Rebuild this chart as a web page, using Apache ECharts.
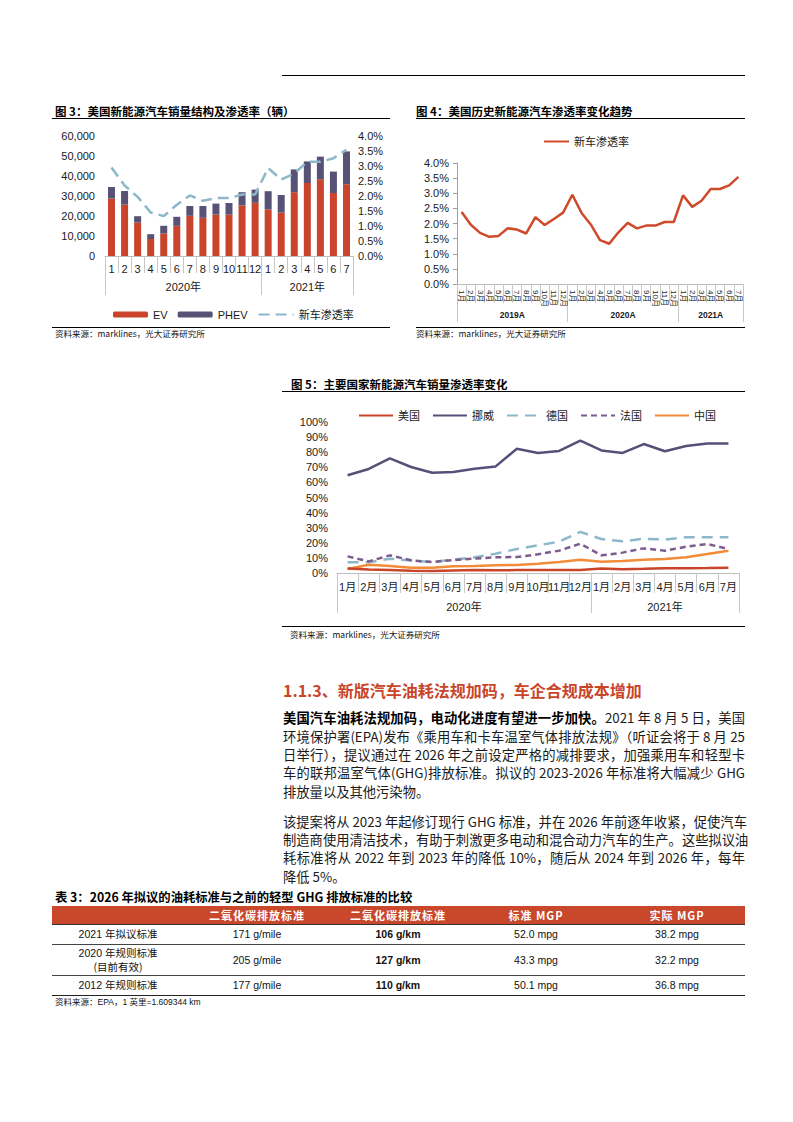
<!DOCTYPE html>
<html><head><meta charset="utf-8">
<script src="https://cdn.jsdelivr.net/npm/echarts@6/dist/echarts.min.js"></script>
<style>
body{margin:0;width:793px;height:1122px;background:#fff;position:relative;font-family:"Noto Sans CJK SC",sans-serif;color:#1a1a1a;overflow:hidden}
.a{position:absolute;white-space:nowrap}
.hl{position:absolute;background:#000}
.t{font-weight:bold;font-size:11.5px;line-height:14px;color:#000}
.src{font-size:8.5px;line-height:10px;color:#111}
.p{position:absolute;left:283px;width:462px;font-size:13.3px;line-height:18px;height:18px;white-space:nowrap;text-align:justify;text-align-last:justify;color:#1a1a1a}
.p.l{text-align:left;text-align-last:left}
.c{position:absolute;transform:translateX(-50%);text-align:center;white-space:nowrap}
.th{font-weight:bold;color:#fff;font-size:11px;letter-spacing:1px;line-height:14px}
.td{font-family:"Liberation Sans","Noto Sans CJK SC",sans-serif;font-size:10.5px;line-height:14px;color:#111}
.td .cj{font-family:"Noto Sans CJK SC",sans-serif;font-size:10.5px}
</style></head>
<body>
<!-- page header rule -->
<div class="hl" style="left:282px;top:75px;width:463px;height:1px"></div>

<!-- Figure 3 -->
<div class="a t" style="left:55px;top:104px">图 3：美国新能源汽车销量结构及渗透率（辆）</div>
<div class="hl" style="left:52px;top:118px;width:338px;height:1.3px"></div>
<div id="c3" class="a" style="left:52px;top:122px;width:340px;height:205px"></div>
<div class="hl" style="left:52px;top:327px;width:338px;height:1px"></div>
<div class="a src" style="left:55px;top:328px">资料来源：marklines，光大证券研究所</div>

<!-- Figure 4 -->
<div class="a t" style="left:416px;top:104px">图 4：美国历史新能源汽车渗透率变化趋势</div>
<div class="hl" style="left:416px;top:118px;width:329px;height:1.3px"></div>
<div id="c4" class="a" style="left:412px;top:125px;width:338px;height:202px"></div>
<div class="hl" style="left:416px;top:327px;width:329px;height:1px"></div>
<div class="a src" style="left:416px;top:328px">资料来源：marklines，光大证券研究所</div>

<!-- Figure 5 -->
<div class="a t" style="left:291px;top:377px">图 5：主要国家新能源汽车销量渗透率变化</div>
<div class="hl" style="left:282px;top:391px;width:463px;height:1.3px"></div>
<div id="c5" class="a" style="left:282px;top:398px;width:468px;height:225px"></div>
<div class="hl" style="left:282px;top:626px;width:463px;height:1px"></div>
<div class="a src" style="left:290px;top:629px">资料来源：marklines，光大证券研究所</div>

<!-- Section heading -->
<div class="a" style="left:283px;top:679px;font-size:16px;line-height:22px;font-weight:bold;color:#C8452A">1.1.3、新版汽车油耗法规加码，车企合规成本增加</div>

<div class="p" style="top:709px"><b style="color:#000">美国汽车油耗法规加码，电动化进度有望进一步加快。</b>2021 年 8 月 5 日，美国</div>
<div class="p" style="top:727.5px">环境保护署(EPA)发布《乘用车和卡车温室气体排放法规》（听证会将于 8 月 25</div>
<div class="p" style="top:746px">日举行），提议通过在 2026 年之前设定严格的减排要求，加强乘用车和轻型卡</div>
<div class="p" style="top:764.3px">车的联邦温室气体(GHG)排放标准。拟议的 2023-2026 年标准将大幅减少 GHG</div>
<div class="p l" style="top:782.7px">排放量以及其他污染物。</div>

<div class="p" style="top:812.7px">该提案将从 2023 年起修订现行 GHG 标准，并在 2026 年前逐年收紧，促使汽车</div>
<div class="p" style="top:831px">制造商使用清洁技术，有助于刺激更多电动和混合动力汽车的生产。这些拟议油</div>
<div class="p" style="top:849.3px">耗标准将从 2022 年到 2023 年的降低 10%，随后从 2024 年到 2026 年，每年</div>
<div class="p l" style="top:867.6px">降低 5%。</div>

<!-- Table 3 -->
<div class="a" style="left:55px;top:889px;font-size:12.3px;line-height:16px;font-weight:bold;color:#000">表 3：2026 年拟议的油耗标准与之前的轻型 GHG 排放标准的比较</div>
<div class="a" style="left:52px;top:906px;width:693px;height:18px;background:#C9472B"></div>
<div class="hl" style="left:52px;top:924px;width:693px;height:1px;background:#333"></div>
<div class="hl" style="left:52px;top:944px;width:693px;height:0.8px;background:#444"></div>
<div class="hl" style="left:52px;top:975px;width:693px;height:0.8px;background:#444"></div>
<div class="hl" style="left:52px;top:995px;width:693px;height:1px;background:#222"></div>
<div id="tbl"></div>
<div class="a src" style="left:55px;top:997px;font-family:'Liberation Sans','Noto Sans CJK SC',sans-serif">资料来源：EPA，1 英里=1.609344 km</div>

<script>
// ---------------- DATA ----------------
// Figure 3: US NEV sales structure (units) and penetration
var months3 = ['1','2','3','4','5','6','7','8','9','10','11','12','1','2','3','4','5','6','7'];
var years3 = ['2020年','2021年'];
var yearCounts3 = [12, 7];
var evSales = [28700,25700,16700,8500,11300,15100,20100,19100,20700,20700,25300,26600,23300,21700,31900,36500,38400,31500,35900];
var phevSales = [5800,6800,3200,2400,3800,4500,4900,5900,5500,5800,6600,6600,9100,8800,11400,10800,11300,10700,16400];
var usRate = [2.95,2.35,1.97,1.45,1.33,1.71,2.02,1.84,1.93,1.93,2.05,2.05,2.93,2.55,2.75,3.14,3.14,3.26,3.54];

// Figure 4: US historical penetration (%)
var months4 = ['1月','2月','3月','4月','5月','6月','7月','8月','9月','10月','11月','12月',
               '1月','2月','3月','4月','5月','6月','7月','8月','9月','10月','11月','12月',
               '1月','2月','3月','4月','5月','6月','7月'];
var years4 = ['2019A','2020A','2021A'];
var yearCounts4 = [12, 12, 7];
var usRate2019 = [2.38,1.96,1.69,1.56,1.59,1.84,1.80,1.67,2.21,1.95,2.15,2.36];

// Figure 5: penetration by country (%)
var months5 = ['1月','2月','3月','4月','5月','6月','7月','8月','9月','10月','11月','12月','1月','2月','3月','4月','5月','6月','7月'];
var years5 = ['2020年','2021年'];
var yearCounts5 = [12, 7];
var norway = [64.7,68.9,75.9,70.2,66.4,66.9,69.1,70.6,82.3,79.5,80.8,87.6,81.2,79.5,85.4,80.6,84.1,85.7,85.7];
var germany = [7.1,7.1,9.5,8.2,7.3,8.8,10.4,12.8,15.9,18.3,20.8,27.2,22.5,21.0,22.7,22.1,23.6,23.6,23.6];
var france = [11.0,7.7,11.7,8.4,7.3,8.6,9.5,10.4,10.6,12.4,14.8,19.4,11.7,13.5,16.3,14.8,17.4,19.2,15.9];
var china = [2.6,5.5,4.6,3.5,3.5,4.4,4.6,5.1,5.3,6.2,7.3,8.8,7.5,7.9,8.8,9.3,10.4,12.6,14.8];

// Table 3
var tblHead = ['', '二氧化碳排放标准', '二氧化碳排放标准', '标准 MGP', '实际 MGP'];
var tblRowNames = [['2021 年拟议标准'], ['2020 年规则标准', '(目前有效)'], ['2012 年规则标准']];
var tblMile = ['171 g/mile', '205 g/mile', '177 g/mile'];
var tblKm = ['106 g/km', '127 g/km', '110 g/km'];
var tblStd = ['52.0 mpg', '43.3 mpg', '50.1 mpg'];
var tblReal = ['38.2 mpg', '32.2 mpg', '36.8 mpg'];

// ---------------- HELPERS ----------------
var FF = 'Liberation Sans, Noto Sans CJK SC, sans-serif';
var TXT = '#1a1a1a';
var GRAYL = '#c8c8c8';
var NOSYM = { opacity: 0 };

function yearAxis(names, counts, tickLen, labelMargin, fontSize, bold) {
  var bounds = [0], centers = [], acc = 0;
  counts.forEach(function (n) { centers.push(acc + n / 2); acc += n; bounds.push(acc); });
  return {
    type: 'value', min: 0, max: acc, position: 'bottom',
    axisLine: { show: false }, splitLine: { show: false },
    axisTick: { show: true, customValues: bounds, length: tickLen, lineStyle: { color: GRAYL, width: 1 } },
    axisLabel: {
      show: true, customValues: centers, margin: labelMargin, fontSize: fontSize, color: TXT,
      fontFamily: FF, fontWeight: bold ? 'bold' : 'normal',
      formatter: function (v) { var i = centers.indexOf(v); return i >= 0 ? names[i] : ''; }
    }
  };
}

function monthAxis(data, tickLen, labelMargin, fontSize, rotate) {
  return {
    type: 'category', data: data, position: 'bottom', boundaryGap: true,
    axisLine: { show: true, lineStyle: { color: '#bdbdbd', width: 1 } },
    axisTick: { show: true, interval: 0, length: tickLen, alignWithLabel: false, lineStyle: { color: GRAYL, width: 1 } },
    axisLabel: { interval: 0, margin: labelMargin, fontSize: fontSize, color: TXT, fontFamily: FF, rotate: rotate || 0, hideOverlap: false },
    splitLine: { show: false }
  };
}

// ---------------- FIGURE 3 ----------------
var c3 = echarts.init(document.getElementById('c3'), null, { renderer: 'svg' });
c3.setOption({
  animation: false,
  grid: { left: 53, right: 39, top: 14, bottom: 71, containLabel: false },
  legend: {
    left: 56, top: 182, itemWidth: 35, itemHeight: 6, itemGap: 10,
    textStyle: { fontSize: 11, color: TXT, fontFamily: FF },
    data: ['EV', 'PHEV', { name: '新车渗透率', itemStyle: NOSYM }]
  },
  xAxis: [monthAxis(months3, 17, 7, 11), yearAxis(years3, yearCounts3, 39, 25, 11, false)],
  yAxis: [
    { type: 'value', min: 0, max: 60000, interval: 10000, axisLine: { show: false }, axisTick: { show: false }, splitLine: { show: false },
      axisLabel: { margin: 10, fontSize: 11, color: TXT, fontFamily: FF, formatter: function (v) { return v.toLocaleString('en-US'); } } },
    { type: 'value', min: 0, max: 4, interval: 0.5, position: 'right', axisLine: { show: false }, axisTick: { show: false }, splitLine: { show: false },
      axisLabel: { margin: 5, fontSize: 11, color: TXT, fontFamily: FF, formatter: function (v) { return v.toFixed(1) + '%'; } } }
  ],
  series: [
    { name: 'EV', type: 'bar', stack: 's', data: evSales, barWidth: 7, itemStyle: { color: '#C9442A' } },
    { name: 'PHEV', type: 'bar', stack: 's', data: phevSales, barWidth: 7, itemStyle: { color: '#585276' } },
    { name: '新车渗透率', type: 'line', yAxisIndex: 1, data: usRate, symbol: 'none', z: 5,
      lineStyle: { color: '#8DB8CA', width: 2.5, type: [11, 6] }, itemStyle: { color: '#8DB8CA' } }
  ]
});

// ---------------- FIGURE 4 ----------------
var c4 = echarts.init(document.getElementById('c4'), null, { renderer: 'svg' });
var hist = usRate2019.concat(usRate);
c4.setOption({
  animation: false,
  grid: { left: 45, right: 7, top: 38, bottom: 43, containLabel: false },
  legend: {
    left: 126, top: 6, itemWidth: 25, itemHeight: 3, itemGap: 10,
    textStyle: { fontSize: 11, color: TXT, fontFamily: FF },
    data: [{ name: '新车渗透率', itemStyle: NOSYM }]
  },
  xAxis: [monthAxis(months4, 19, 6, 8, -90), yearAxis(years4, yearCounts4, 38, 27, 8.5, true)],
  yAxis: [{
    type: 'value', min: 0, max: 4, interval: 0.5,
    axisLine: { show: true, lineStyle: { color: '#a0a0a0' } },
    axisTick: { show: true, length: 4, lineStyle: { color: '#a0a0a0' } },
    splitLine: { show: false },
    axisLabel: { margin: 8, fontSize: 11, color: TXT, fontFamily: FF, formatter: function (v) { return v.toFixed(1) + '%'; } }
  }],
  series: [{ name: '新车渗透率', type: 'line', data: hist, symbol: 'none',
    lineStyle: { color: '#CF4A2A', width: 2.5 }, itemStyle: { color: '#CF4A2A' } }]
});

// ---------------- FIGURE 5 ----------------
var c5 = echarts.init(document.getElementById('c5'), null, { renderer: 'svg' });
c5.setOption({
  animation: false,
  grid: { left: 55, right: 11, top: 24, bottom: 50, containLabel: false },
  legend: {
    left: 71, top: 7, itemWidth: 34, itemHeight: 3, itemGap: 12,
    textStyle: { fontSize: 11, color: TXT, fontFamily: FF },
    data: ['美国', '挪威', '德国', '法国', '中国'].map(function (n) { return { name: n, itemStyle: NOSYM }; })
  },
  xAxis: [monthAxis(months5, 20, 8, 11), yearAxis(years5, yearCounts5, 40, 28, 11, false)],
  yAxis: [{
    type: 'value', min: 0, max: 100, interval: 10,
    axisLine: { show: false }, axisTick: { show: false }, splitLine: { show: false },
    axisLabel: { margin: 9, fontSize: 11, color: TXT, fontFamily: FF, formatter: function (v) { return v + '%'; } }
  }],
  series: [
    { name: '美国', type: 'line', data: usRate, symbol: 'none', z: 6, lineStyle: { color: '#C9442A', width: 2.5 }, itemStyle: { color: '#C9442A' } },
    { name: '挪威', type: 'line', data: norway, symbol: 'none', lineStyle: { color: '#565078', width: 2.5 }, itemStyle: { color: '#565078' } },
    { name: '德国', type: 'line', data: germany, symbol: 'none', lineStyle: { color: '#8DB8CA', width: 2.5, type: [11, 7] }, itemStyle: { color: '#8DB8CA' } },
    { name: '法国', type: 'line', data: france, symbol: 'none', lineStyle: { color: '#7D5B8C', width: 2.5, type: [6, 4] }, itemStyle: { color: '#7D5B8C' } },
    { name: '中国', type: 'line', data: china, symbol: 'none', z: 5, lineStyle: { color: '#F28C38', width: 2.5 }, itemStyle: { color: '#F28C38' } }
  ]
});

// ---------------- TABLE ----------------
(function () {
  var cols = [118, 257, 398, 536, 677];
  var rowY = [934, 960, 985];
  var h = '';
  tblHead.forEach(function (t, i) {
    if (t) h += '<div class="c th" style="left:' + cols[i] + 'px;top:908px">' + t + '</div>';
  });
  for (var r = 0; r < 3; r++) {
    var names = tblRowNames[r];
    if (names.length === 1) {
      h += '<div class="c td" style="left:' + cols[0] + 'px;top:' + (rowY[r] - 7) + 'px">' + names[0].replace(/^(\d+ )(.*)$/, '$1<span class="cj">$2</span>') + '</div>';
    } else {
      h += '<div class="c td" style="left:' + cols[0] + 'px;top:' + (rowY[r] - 14) + 'px">' + names[0].replace(/^(\d+ )(.*)$/, '$1<span class="cj">$2</span>') + '<br><span class="cj">' + names[1] + '</span></div>';
    }
    var vals = [tblMile[r], tblKm[r], tblStd[r], tblReal[r]];
    vals.forEach(function (v, j) {
      h += '<div class="c td" style="left:' + cols[j + 1] + 'px;top:' + (rowY[r] - 7) + 'px;' + (j === 1 ? 'font-weight:bold' : '') + '">' + v + '</div>';
    });
  }
  document.getElementById('tbl').innerHTML = h;
})();
</script>
</body></html>
